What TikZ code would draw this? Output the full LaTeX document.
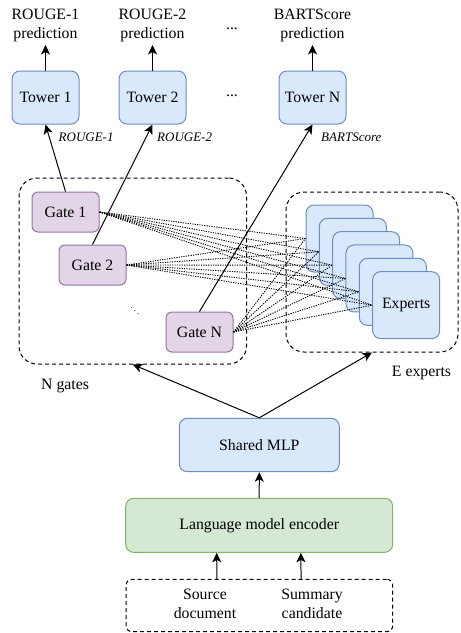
\documentclass[tikz,border=0pt]{standalone}
\usepackage{fontspec}
\setmainfont{Liberation Serif}
\usetikzlibrary{arrows.meta}
\definecolor{bfill}{HTML}{DAE8FC}
\definecolor{bline}{HTML}{6C8EBF}
\definecolor{pfill}{HTML}{E1D5E7}
\definecolor{pline}{HTML}{9673A6}
\definecolor{gfill}{HTML}{D5E8D4}
\definecolor{gline}{HTML}{82B366}
\begin{document}
\begin{tikzpicture}[x=1pt,y=-1pt,
  every node/.style={font=\fontsize{15.8}{19}\selectfont, inner sep=0pt},
  bluebox/.style={draw=bline, fill=bfill, line width=1pt, rounded corners=8pt, minimum width=67pt, minimum height=53pt},
  gatebox/.style={draw=pline, fill=pfill, line width=1pt, rounded corners=6pt, minimum width=67pt, minimum height=40pt},
  expbox/.style={bluebox, minimum width=67pt, minimum height=67pt},
  greenbox/.style={draw=gline, fill=gfill, line width=1pt, rounded corners=8pt},
  dbox/.style={draw, dash pattern=on 4pt off 3pt, line width=1pt},
  arr/.style={-{Stealth[length=9.5pt,width=9pt,inset=2.5pt]}, line width=1pt},
  dotl/.style={dash pattern=on 1.2pt off 1.2pt, line width=0.9pt},
  tlabel/.style={font=\fontsize{13}{15}\selectfont\itshape, anchor=base west},
  multi/.style={align=center}
]
\useasboundingbox (0,0) rectangle (461,633);

% containers
\node[dbox, rounded corners=18pt, minimum width=227.5pt, minimum height=186pt] (gbox) at (132.75,271) {};
\node[dbox, rounded corners=18pt, minimum width=172pt, minimum height=160pt] (ebox) at (372,272) {};

% outputs
\node[multi] (o1) at (45.5,25.9) {ROUGE-1\\prediction};
\node[multi] (o2) at (152.5,25.9) {ROUGE-2\\prediction};
\node[multi] (oN) at (312.5,25.9) {BARTScore\\prediction};
\node[anchor=base] (d1) at (232,29.5) {...};

% towers
\node[bluebox] (t1) at (45.5,97.5) {Tower 1};
\node[bluebox] (t2) at (152.5,97.5) {Tower 2};
\node[bluebox] (tN) at (312.5,97.5) {Tower N};
\node[anchor=base] (d2) at (232,96.8) {...};

\draw[arr, shorten >=2.5pt] (t1.north) -- (o1.south);
\draw[arr, shorten >=2.5pt] (t2.north) -- (o2.south);
\draw[arr, shorten >=2.5pt] (tN.north) -- (oN.south);

% tower labels
\node[tlabel] (l1) at (58.5,141.5) {ROUGE-1};
\node[tlabel] (l2) at (157,141.5) {ROUGE-2};
\node[tlabel] (lN) at (321,141.5) {BARTScore};

% experts
\foreach \k in {0,...,4} {
  \node[expbox] (e\k) at (339.5+13.33*\k, 238.5+13.33*\k) {};
}
\node[expbox] (e5) at (339.5+13.33*5, 238.5+13.33*5) {Experts};

% gates
\node[gatebox] (g1) at (65.5,212) {Gate 1};
\node[gatebox] (g2) at (92.5,265) {Gate 2};
\node[gatebox] (gN) at (199.5,332) {Gate N};
\node[font=\fontsize{9}{10}\selectfont] (gd) at (135,308) {$\ddots$};

% dotted gate-expert links
\foreach \g in {g1,g2,gN} {
  \foreach \k in {0,...,5} {
    \draw[dotl] (\g.east) -- (e\k.west);
  }
}

% gate to tower
\draw[arr] (g1.north) -- (t1.south);
\draw[arr] (g2.north) -- (t2.south);
\draw[arr] (gN.north) -- (tN.south);

% container labels
\node[anchor=base west] (ng) at (41,389) {N gates};
\node[anchor=base west] (ee) at (391.7,376.5) {E experts};

% lower part
\node[bluebox, minimum width=160pt, minimum height=53.4pt] (mlp) at (259.3,445) {Shared MLP};
\node[greenbox, minimum width=267pt, minimum height=54pt] (enc) at (259.2,525.3) {Language model encoder};
\node[dbox, rounded corners=6pt, minimum width=266.7pt, minimum height=52.4pt] (inp) at (259.35,605.5) {};
\node[multi] (src) at (205,604) {Source\\document};
\node[multi] (sum) at (312,604) {Summary\\candidate};

\draw[arr] (mlp.north) -- (gbox.south);
\draw[arr] (mlp.north) -- (ebox.south);
\draw[arr] (enc.north) -- (mlp.south);
\draw[arr] ([xshift=-42.5pt]inp.north) -- ([xshift=-42.5pt]enc.south);
\draw[arr] ([xshift=41.7pt]inp.north) -- ([xshift=41.7pt]enc.south);
\end{tikzpicture}
\end{document}
